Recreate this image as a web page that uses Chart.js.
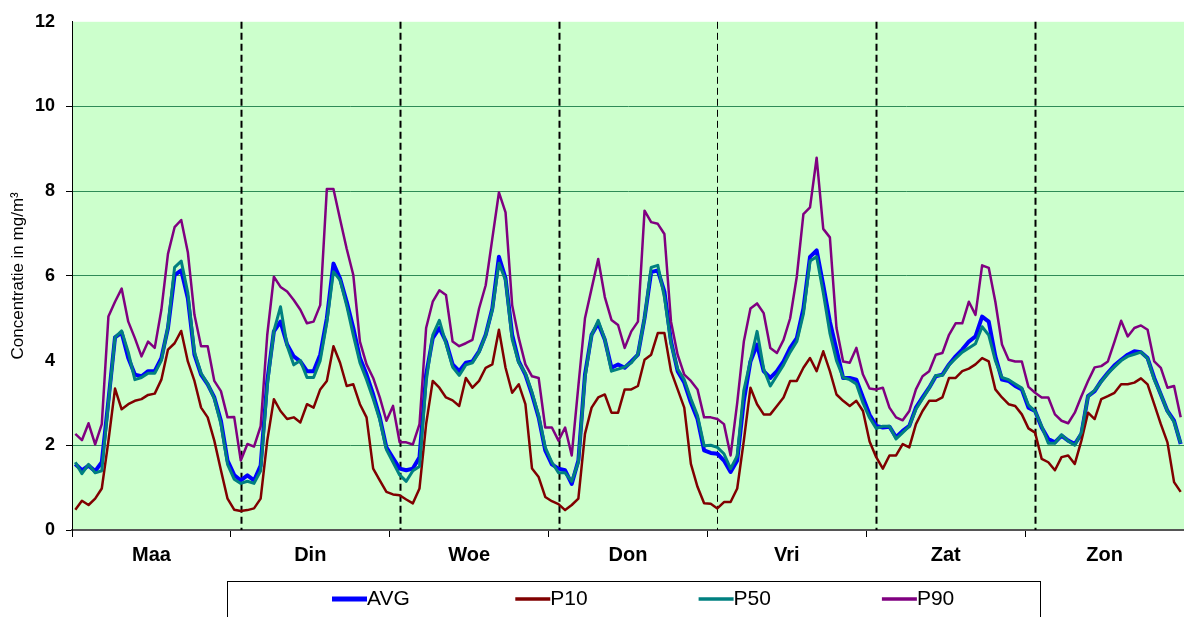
<!DOCTYPE html>
<html>
<head>
<meta charset="utf-8">
<script src="https://cdn.jsdelivr.net/npm/chart.js@4.4.1/dist/chart.umd.min.js"></script>
<style>
  html, body { margin: 0; padding: 0; background: #fff; }
</style>
</head>
<body>
<canvas id="chart" width="1184" height="617"></canvas>
<script>
// one value per hour, Monday 00h .. Sunday 23h
const days = ['Maa', 'Din', 'Woe', 'Don', 'Vri', 'Zat', 'Zon'];
const yTicks = [0, 2, 4, 6, 8, 10, 12];

const avg = [
  1.56, 1.41, 1.52, 1.39, 1.60, 3.05, 4.55, 4.66, 4.06, 3.67, 3.63, 3.75, 3.75, 4.06, 4.77, 6.02, 6.13, 5.47, 4.14, 3.67, 3.44, 3.13, 2.58, 1.64,
  1.30, 1.17, 1.29, 1.17, 1.52, 3.52, 4.69, 4.92, 4.38, 4.10, 3.98, 3.75, 3.75, 4.14, 5.00, 6.29, 5.94, 5.39, 4.77, 4.06, 3.67, 3.20, 2.66, 1.95,
  1.70, 1.45, 1.41, 1.45, 1.72, 3.67, 4.53, 4.77, 4.45, 3.91, 3.75, 3.95, 3.98, 4.22, 4.61, 5.23, 6.45, 5.94, 4.61, 3.98, 3.67, 3.20, 2.66, 1.88,
  1.55, 1.45, 1.41, 1.09, 1.64, 3.67, 4.61, 4.88, 4.49, 3.83, 3.91, 3.83, 3.98, 4.14, 5.00, 6.09, 6.13, 5.63, 4.45, 3.75, 3.48, 3.01, 2.62, 1.88,
  1.82, 1.80, 1.64, 1.37, 1.64, 3.05, 3.98, 4.38, 3.75, 3.59, 3.75, 3.98, 4.30, 4.53, 5.23, 6.45, 6.60, 5.78, 4.92, 4.26, 3.59, 3.59, 3.55, 3.13,
  2.72, 2.46, 2.42, 2.44, 2.19, 2.34, 2.46, 2.89, 3.13, 3.36, 3.63, 3.67, 3.91, 4.10, 4.26, 4.45, 4.57, 5.04, 4.92, 4.10, 3.55, 3.52, 3.40, 3.32,
  2.89, 2.81, 2.42, 2.15, 2.07, 2.23, 2.11, 2.03, 2.27, 3.16, 3.28, 3.52, 3.71, 3.89, 4.02, 4.14, 4.22, 4.20, 4.06, 3.59, 3.20, 2.81, 2.58, 2.03
];

const p10 = [
  0.48, 0.69, 0.59, 0.74, 0.98, 2.10, 3.34, 2.85, 2.97, 3.05, 3.09, 3.19, 3.22, 3.55, 4.26, 4.41, 4.70, 3.98, 3.52, 2.89, 2.66, 2.11, 1.41, 0.74,
  0.48, 0.45, 0.47, 0.51, 0.74, 2.11, 3.09, 2.81, 2.62, 2.66, 2.54, 2.97, 2.89, 3.32, 3.52, 4.34, 3.95, 3.40, 3.44, 2.97, 2.66, 1.45, 1.17, 0.90,
  0.84, 0.82, 0.72, 0.63, 0.98, 2.50, 3.52, 3.36, 3.13, 3.06, 2.93, 3.59, 3.36, 3.52, 3.83, 3.91, 4.73, 3.83, 3.24, 3.44, 2.97, 1.45, 1.25, 0.78,
  0.68, 0.61, 0.47, 0.59, 0.74, 2.27, 2.89, 3.13, 3.20, 2.77, 2.77, 3.32, 3.32, 3.40, 4.02, 4.14, 4.65, 4.65, 3.75, 3.32, 2.89, 1.56, 1.02, 0.63,
  0.62, 0.51, 0.66, 0.66, 0.98, 2.11, 3.36, 2.97, 2.73, 2.73, 2.93, 3.13, 3.52, 3.52, 3.83, 4.06, 3.75, 4.22, 3.75, 3.20, 3.05, 2.93, 3.05, 2.81,
  2.09, 1.72, 1.45, 1.76, 1.76, 2.03, 1.95, 2.50, 2.81, 3.05, 3.05, 3.13, 3.59, 3.59, 3.75, 3.81, 3.91, 4.06, 3.98, 3.32, 3.13, 2.97, 2.93, 2.73,
  2.40, 2.30, 1.68, 1.60, 1.41, 1.72, 1.76, 1.56, 2.11, 2.77, 2.62, 3.09, 3.16, 3.24, 3.44, 3.44, 3.48, 3.58, 3.44, 2.97, 2.50, 2.07, 1.13, 0.90
];

const p50 = [
  1.60, 1.33, 1.55, 1.35, 1.40, 3.00, 4.55, 4.70, 4.20, 3.55, 3.60, 3.70, 3.70, 4.00, 4.80, 6.20, 6.35, 5.60, 4.20, 3.70, 3.45, 3.10, 2.50, 1.55,
  1.20, 1.10, 1.15, 1.10, 1.40, 3.40, 4.70, 5.27, 4.35, 3.90, 4.00, 3.60, 3.60, 4.00, 4.90, 6.10, 5.90, 5.30, 4.60, 3.95, 3.55, 3.10, 2.60, 1.90,
  1.60, 1.30, 1.15, 1.40, 1.50, 3.50, 4.60, 4.95, 4.40, 3.85, 3.65, 3.90, 3.95, 4.20, 4.60, 5.20, 6.30, 5.90, 4.50, 3.95, 3.70, 3.25, 2.70, 1.95,
  1.60, 1.35, 1.35, 1.15, 1.60, 3.60, 4.60, 4.95, 4.50, 3.75, 3.80, 3.85, 3.95, 4.15, 5.00, 6.20, 6.25, 5.50, 4.40, 3.80, 3.55, 3.10, 2.70, 1.99,
  2.00, 1.95, 1.80, 1.45, 1.75, 3.30, 4.00, 4.69, 3.80, 3.40, 3.65, 3.90, 4.20, 4.45, 5.10, 6.35, 6.45, 5.60, 4.65, 4.00, 3.60, 3.55, 3.45, 3.00,
  2.65, 2.40, 2.45, 2.45, 2.15, 2.30, 2.45, 2.85, 3.10, 3.35, 3.65, 3.65, 3.90, 4.05, 4.20, 4.30, 4.40, 4.80, 4.60, 4.00, 3.60, 3.55, 3.45, 3.35,
  2.95, 2.80, 2.45, 2.05, 2.05, 2.25, 2.10, 2.00, 2.30, 3.15, 3.30, 3.50, 3.70, 3.85, 4.00, 4.10, 4.15, 4.20, 4.05, 3.55, 3.20, 2.80, 2.55, 2.05
];

const p90 = [
  2.27, 2.12, 2.52, 2.02, 2.50, 5.04, 5.39, 5.70, 4.92, 4.53, 4.10, 4.45, 4.30, 5.20, 6.52, 7.15, 7.32, 6.56, 5.08, 4.34, 4.34, 3.52, 3.28, 2.66,
  2.67, 1.64, 2.03, 1.97, 2.45, 4.61, 5.98, 5.74, 5.63, 5.43, 5.20, 4.88, 4.92, 5.31, 8.05, 8.05, 7.34, 6.64, 6.02, 4.45, 3.91, 3.59, 3.13, 2.58,
  2.93, 2.07, 2.07, 2.02, 2.50, 4.77, 5.39, 5.66, 5.55, 4.45, 4.34, 4.41, 4.49, 5.23, 5.78, 6.88, 7.97, 7.50, 5.31, 4.53, 3.91, 3.63, 3.59, 2.42,
  2.42, 2.11, 2.42, 1.76, 3.40, 5.00, 5.70, 6.40, 5.50, 4.96, 4.84, 4.30, 4.69, 4.92, 7.54, 7.27, 7.23, 6.99, 4.92, 4.14, 3.67, 3.52, 3.32, 2.66,
  2.66, 2.62, 2.50, 1.76, 3.00, 4.45, 5.23, 5.35, 5.12, 4.30, 4.18, 4.49, 5.00, 5.98, 7.46, 7.62, 8.79, 7.11, 6.91, 4.77, 3.98, 3.95, 4.30, 3.67,
  3.34, 3.32, 3.36, 2.89, 2.66, 2.59, 2.81, 3.32, 3.63, 3.75, 4.14, 4.18, 4.61, 4.88, 4.88, 5.39, 5.08, 6.25, 6.19, 5.39, 4.38, 4.02, 3.98, 3.98,
  3.38, 3.24, 3.13, 3.13, 2.73, 2.58, 2.52, 2.77, 3.16, 3.52, 3.84, 3.87, 3.98, 4.45, 4.94, 4.57, 4.77, 4.83, 4.73, 3.98, 3.83, 3.36, 3.40, 2.66
];

const hours = avg.length;
const pts = arr => arr.map((v, i) => ({ x: i + 0.5, y: v }));
const font = '"Liberation Sans", Arial, sans-serif';

// plot background, dashed day lines, boxed legend
const decor = {
  id: 'decor',
  beforeDraw(chart) {
    const { ctx, chartArea: a } = chart;
    ctx.save();
    ctx.fillStyle = '#CCFFCC';
    ctx.fillRect(a.left, a.top, a.right - a.left, a.bottom - a.top);
    ctx.restore();
  },
  beforeDatasetsDraw(chart) {
    const { ctx, chartArea: a, scales } = chart;
    ctx.save();
    ctx.strokeStyle = '#000';
    ctx.setLineDash([7, 4]);
    for (let d = 1; d < days.length; d++) {
      const x = Math.round(scales.x.getPixelForValue(d * 24 + 1.5)) + 0.5;
      ctx.lineWidth = d === 4 ? 1 : 2;
      ctx.beginPath();
      ctx.moveTo(x, a.top);
      ctx.lineTo(x, a.bottom);
      ctx.stroke();
    }
    ctx.restore();
  },
  afterDraw(chart) {
    const { ctx } = chart;
    ctx.save();
    ctx.strokeStyle = '#000';
    ctx.lineWidth = 1;
    ctx.strokeRect(227.5, 581.5, 813, 45);
    ctx.font = '21px ' + font;
    ctx.textBaseline = 'middle';
    chart.data.datasets.forEach((ds, n) => {
      const x = 332 + n * 183.3;
      ctx.strokeStyle = ds.borderColor;
      ctx.lineWidth = n === 0 ? 5 : 3.5;
      ctx.beginPath();
      ctx.moveTo(x, 599);
      ctx.lineTo(x + 35, 599);
      ctx.stroke();
      ctx.fillStyle = '#000';
      ctx.fillText(ds.label, x + 35, 599);
    });
    ctx.restore();
  }
};

new Chart(document.getElementById('chart'), {
  type: 'line',
  data: {
    datasets: [
      { label: 'AVG', data: pts(avg), borderColor: '#0000FF', borderWidth: 4, order: 4 },
      { label: 'P10', data: pts(p10), borderColor: '#800000', borderWidth: 2.5, order: 3 },
      { label: 'P50', data: pts(p50), borderColor: '#008080', borderWidth: 3, order: 2 },
      { label: 'P90', data: pts(p90), borderColor: '#800080', borderWidth: 2.5, order: 1 }
    ]
  },
  options: {
    responsive: false,
    animation: false,
    layout: { padding: { top: 18, right: 0, left: 0, bottom: 0 } },
    elements: { point: { radius: 0 }, line: { tension: 0, borderJoinStyle: 'round' } },
    plugins: { legend: { display: false }, tooltip: { enabled: false } },
    scales: {
      x: {
        type: 'linear',
        min: 0,
        max: hours,
        afterFit: s => { s.height = 87; s.paddingRight = 0; s.paddingLeft = 0; },
        afterBuildTicks: s => {
          s.ticks = [];
          for (let v = 0; v <= hours; v += 12) s.ticks.push({ value: v });
        },
        grid: {
          drawOnChartArea: false,
          tickLength: 7,
          tickWidth: 1,
          tickColor: c => (c.tick && c.tick.value % 24 === 0) ? '#000' : 'rgba(0,0,0,0)'
        },
        border: { color: '#555', width: 2 },
        ticks: {
          autoSkip: false,
          maxRotation: 0,
          padding: 6,
          color: '#000',
          font: { family: font, size: 20, weight: 'bold' },
          callback: v => (v % 24 === 12) ? days[(v - 12) / 24] : ''
        }
      },
      y: {
        min: 0,
        max: 12,
        afterFit: s => { s.width = 72; },
        afterBuildTicks: s => { s.ticks = yTicks.map(v => ({ value: v })); },
        grid: {
          color: c => (c.tick && (c.tick.value === 4 || c.tick.value === 12 || c.tick.value === 0)) ? 'rgba(0,0,0,0)' : '#2E8B57',
          tickColor: c => (c.tick && (c.tick.value === 4 || c.tick.value === 12)) ? 'rgba(0,0,0,0)' : '#000',
          tickLength: 6,
          lineWidth: 1
        },
        border: { color: '#000', width: 1 },
        title: {
          display: true,
          text: 'Concentratie in mg/m³',
          color: '#000',
          padding: { top: 8, bottom: 0 },
          font: { family: font, size: 17 }
        },
        ticks: {
          padding: 11,
          color: '#000',
          font: { family: font, size: 18, weight: 'bold' }
        }
      }
    }
  },
  plugins: [decor]
});
</script>
</body>
</html>
